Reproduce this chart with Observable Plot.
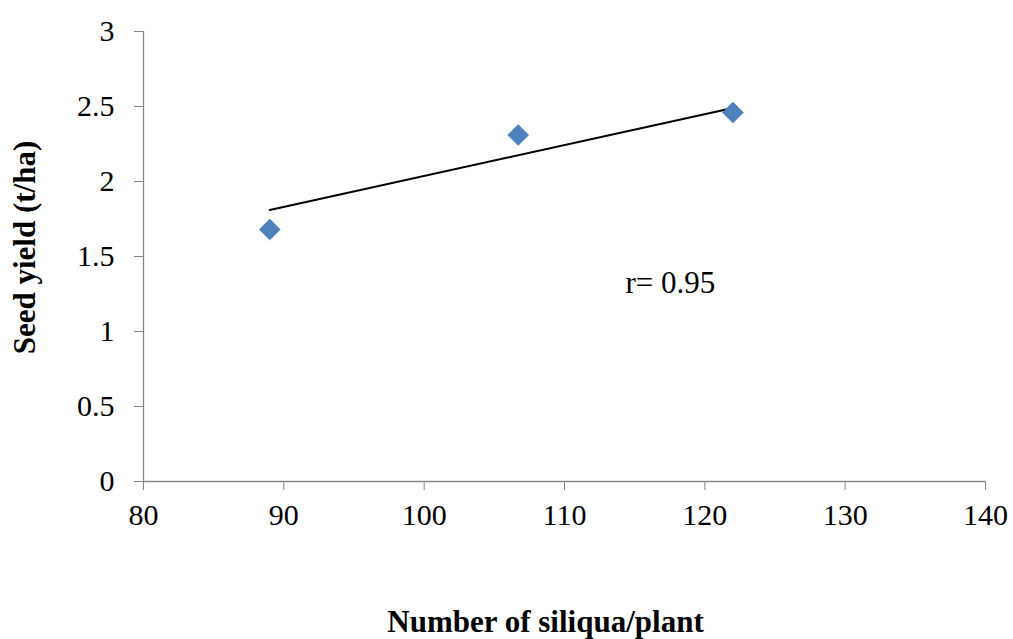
<!DOCTYPE html>
<html>
<head>
<meta charset="utf-8">
<script src="https://cdn.jsdelivr.net/npm/d3@7"></script>
<script src="https://cdn.jsdelivr.net/npm/@observablehq/plot@0.6"></script>
<style>
  html, body { margin: 0; padding: 0; background: #fff; }
</style>
</head>
<body>
<div id="chart"></div>
<script>
// Data
const siliqua = [89, 106.7, 122];
const seedYield = [1.68, 2.31, 2.46];
const trendX = [89, 122];
const trendY = [1.81, 2.49];
const xTicks = [80, 90, 100, 110, 120, 130, 140];
const yTicks = [0, 0.5, 1, 1.5, 2, 2.5, 3];
const xLabel = "Number of siliqua/plant";
const yLabel = "Seed yield (t/ha)";
const annotation = "r= 0.95";
const annotationPos = {x: 114.35, y: 1.29};

const points = siliqua.map((x, i) => ({x, y: seedYield[i]}));
const trend = trendX.map((x, i) => ({x, y: trendY[i]}));

const axisColor = "#868686";
const font = "'Liberation Serif', 'Times New Roman', serif";

const chart = Plot.plot({
  width: 1013,
  height: 639,
  marginLeft: 143,
  marginRight: 28,
  marginTop: 31,
  marginBottom: 158,
  style: {fontFamily: font, background: "#fff", color: "#000"},
  x: {domain: [80, 140]},
  y: {domain: [0, 3]},
  marks: [
    Plot.ruleY([0], {stroke: axisColor, strokeWidth: 1.3}),
    Plot.ruleX([80], {stroke: axisColor, strokeWidth: 1.3}),
    Plot.axisX({
      ticks: xTicks, tickSize: 9, tickPadding: 13, stroke: axisColor, fill: "#000",
      fontSize: 30, tickFormat: d => String(d), label: null
    }),
    Plot.axisY({
      ticks: yTicks, tickSize: 9, tickPadding: 20, stroke: axisColor, fill: "#000",
      fontSize: 30, tickFormat: d => String(d), label: null
    }),
    Plot.line(trend, {x: "x", y: "y", stroke: "#000", strokeWidth: 2}),
    Plot.dot(points, {x: "x", y: "y", symbol: "diamond2", r: 9.5, fill: "#4F81BD", stroke: "#4A7EBB", strokeWidth: 0.5}),
    Plot.text([annotation], {
      x: () => annotationPos.x, y: () => annotationPos.y, text: d => d,
      textAnchor: "start", lineAnchor: "bottom", dy: 5, fontSize: 31, fill: "#000"
    }),
    Plot.text([xLabel], {
      frameAnchor: "bottom", textAnchor: "middle", lineAnchor: "top", dx: -19, dy: 128,
      text: d => d, fontSize: 31, fontWeight: "bold", fill: "#000"
    }),
    Plot.text([yLabel], {
      frameAnchor: "left", textAnchor: "middle", lineAnchor: "middle", dx: -118, dy: -9,
      rotate: -90, text: d => d, fontSize: 31, fontWeight: "bold", fill: "#000"
    })
  ]
});
document.getElementById("chart").appendChild(chart);
</script>
</body>
</html>
